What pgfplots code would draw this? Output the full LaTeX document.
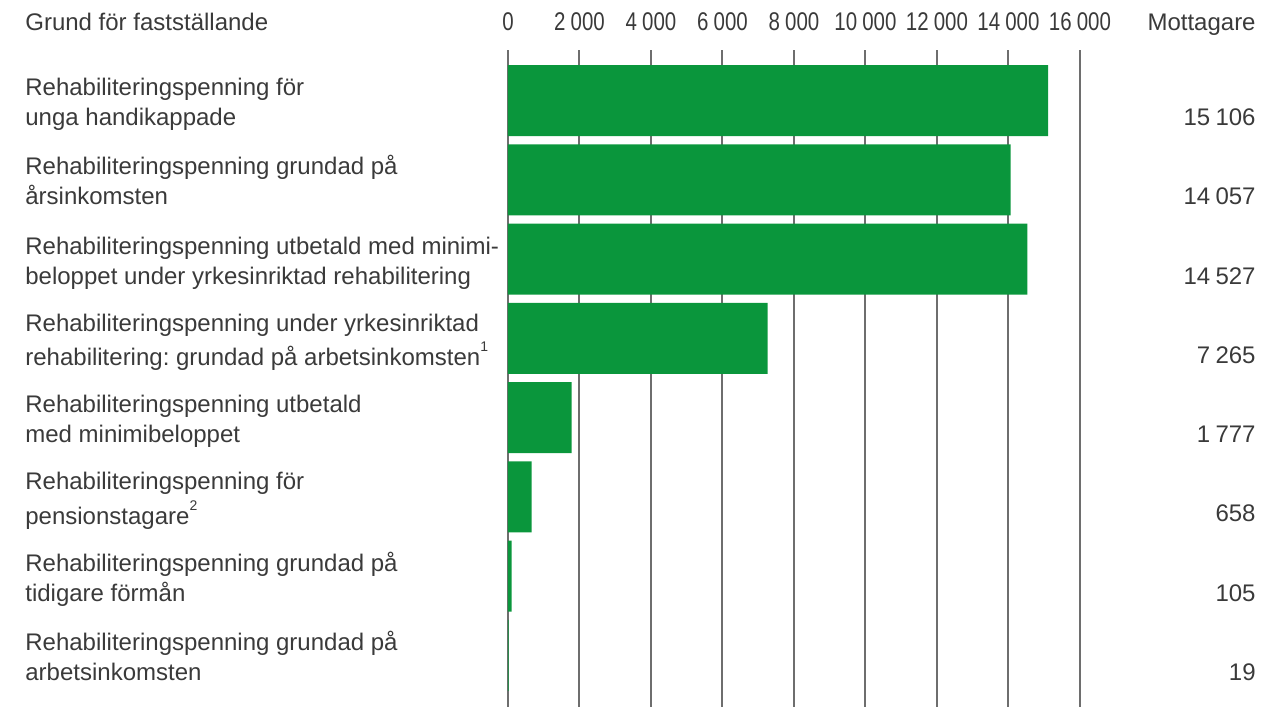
\documentclass[border=0pt]{standalone}
\usepackage{pgfplots}
\pgfplotsset{compat=1.18}
\usepackage{fontspec}
\setmainfont{Liberation Sans}
\newfontfamily\cond{Liberation Sans}[FakeStretch=0.8]
\usetikzlibrary{calc}
\definecolor{barg}{HTML}{0A963C}
\definecolor{txt}{HTML}{3A3A3A}
\definecolor{grd}{HTML}{6E6E6E}
\newcommand{\supn}[1]{\raisebox{1.1ex}{\fontsize{7bp}{7bp}\selectfont #1}}
\tikzset{val/.style={anchor=base east, inner sep=0pt, text=txt, xshift=88bp, yshift=-12.5bp}}
\frenchspacing
\begin{document}
\begin{tikzpicture}[font=\fontsize{12bp}{15bp}\selectfont]
\begin{axis}[
 scale only axis, width=286bp, height=328.5bp,
 xmin=0, xmax=16000, ymin=-0.637, ymax=7.65, y dir=reverse,
 clip=false,
 axis line style={draw=none},
 xtick={0,2000,...,16000}, xmajorgrids, grid style={grd, line width=1bp},
 major tick length=0pt,
 xticklabel pos=upper,
 xticklabel style={anchor=base, inner sep=0pt, yshift=9.75bp, text=txt, font=\cond\fontsize{12.8bp}{15bp}\selectfont},
 scaled x ticks=false,
 /pgf/number format/1000 sep={\hspace{0.2em}},
 /pgf/number format/assume math mode=true,
 ytick={0,...,7},
 yticklabels={
  {\strut Rehabiliteringspenning för\\unga handikappade\strut},
  {\strut Rehabiliteringspenning grundad på\\årsinkomsten\strut},
  {\strut Rehabiliteringspenning utbetald med minimi-\\beloppet under yrkesinriktad rehabilitering\strut},
  {\strut Rehabiliteringspenning under yrkesinriktad\\rehabilitering: grundad på arbetsinkomsten\supn{1}\strut},
  {\strut Rehabiliteringspenning utbetald\\med minimibeloppet\strut},
  {\strut Rehabiliteringspenning för\\pensionstagare\supn{2}\strut},
  {\strut Rehabiliteringspenning grundad på\\tidigare förmån\strut},
  {\strut Rehabiliteringspenning grundad på\\arbetsinkomsten\strut}},
 yticklabel style={anchor=west, align=left, inner sep=0pt, xshift=-241.5bp, yshift=-2bp, text=txt, font=\fontsize{12bp}{15bp}\selectfont},
]
\addplot[xbar, fill=barg, draw=none, bar width=35.5bp] coordinates {
 (15106,0) (14057,1) (14527,2) (7265,3) (1777,4) (658,5) (105,6) (19,7)};
\coordinate (TL) at (axis cs:0,-0.637);
\coordinate (BR) at (axis cs:16000,7.65);
\node[anchor=base west, inner sep=0pt, text=txt, xshift=-241.5bp, yshift=9.75bp] at (axis cs:0,-0.637) {Grund för fastställande};
\node[anchor=base east, inner sep=0pt, text=txt, xshift=88bp, yshift=9.75bp] at (axis cs:16000,-0.637) {Mottagare};
\node[val] at (axis cs:16000,0) {15\hspace{0.22em}106};
\node[val] at (axis cs:16000,1) {14\hspace{0.22em}057};
\node[val] at (axis cs:16000,2) {14\hspace{0.22em}527};
\node[val] at (axis cs:16000,3) {7\hspace{0.22em}265};
\node[val] at (axis cs:16000,4) {1\hspace{0.22em}777};
\node[val] at (axis cs:16000,5) {658};
\node[val] at (axis cs:16000,6) {105};
\node[val] at (axis cs:16000,7) {19};
\end{axis}
\useasboundingbox ($(TL)+(-254bp,25bp)$) rectangle ($(BR)+(102bp,0bp)$);
\end{tikzpicture}
\end{document}
